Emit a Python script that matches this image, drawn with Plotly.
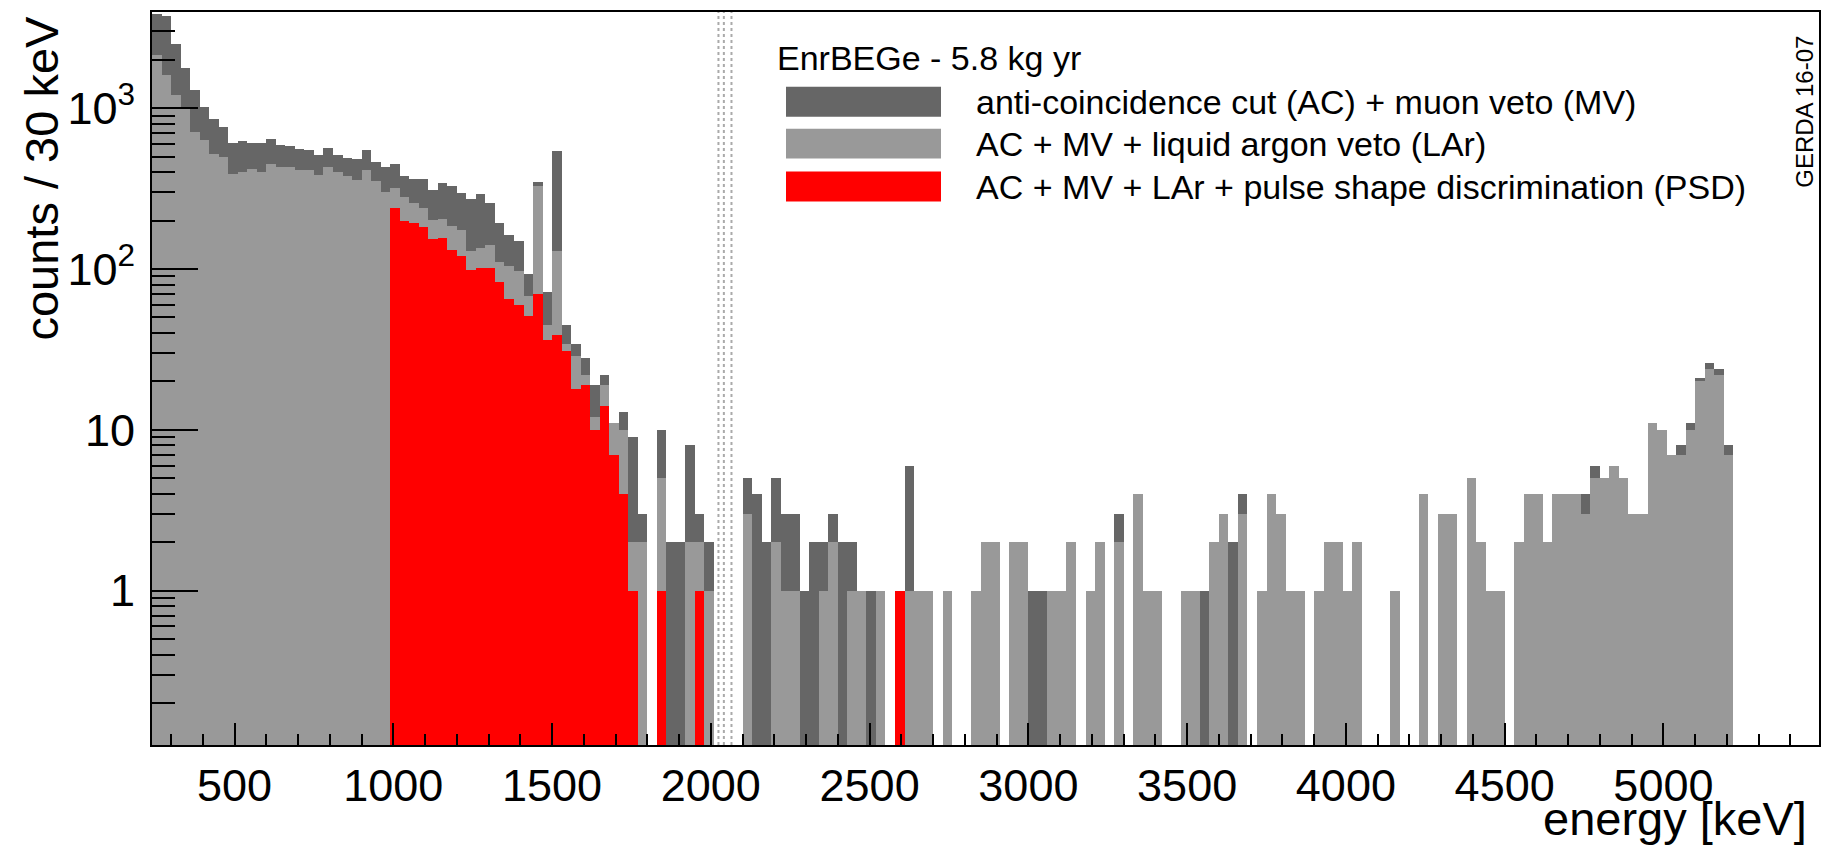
import plotly.graph_objects as go

# Histogram binning: 30 keV bins starting at 240 keV
E_MIN = 240
BIN_WIDTH = 30

# counts / 30 keV after anti-coincidence cut (AC) + muon veto (MV)
ac_mv = [
    3830, 3720, 2500, 1780, 1290, 1010, 855, 760, 611, 622,
    605, 611, 646, 590, 585, 557, 552, 512, 563, 512,
    493, 483, 550, 465, 430, 448, 379, 365, 361, 310,
    345, 326, 299, 273, 293, 257, 193, 162, 150, 93,
    350, 72, 542, 45, 34, 28, 19, 22, 11, 13,
    9, 3, 0, 10, 2, 2, 8, 3, 2, 0,
    0, 0, 5, 4, 2, 5, 3, 3, 1, 2,
    2, 3, 2, 2, 1, 1, 1, 0, 1, 6,
    1, 1, 0, 1, 0, 0, 1, 2, 2, 0,
    2, 2, 1, 1, 1, 1, 2, 0, 1, 2,
    0, 3, 0, 4, 1, 1, 0, 0, 1, 1,
    1, 2, 3, 2, 4, 0, 1, 4, 3, 1,
    1, 0, 1, 2, 2, 1, 2, 0, 0, 0,
    1, 0, 0, 4, 0, 3, 3, 0, 5, 2,
    1, 1, 0, 2, 4, 4, 2, 4, 4, 4,
    4, 6, 5, 6, 5, 3, 3, 11, 10, 7,
    8, 11, 21, 26, 24, 8,
]

# AC + MV + liquid argon veto (LAr)
ac_mv_lar = [
    2130, 1600, 1205, 990, 714, 634, 517, 500, 390, 404,
    419, 404, 450, 433, 430, 410, 413, 385, 430, 400,
    381, 358, 410, 355, 303, 318, 279, 259, 241, 201,
    205, 184, 174, 129, 136, 142, 110, 105, 97, 68,
    326, 45, 130, 34, 29, 22, 12, 19, 11, 10,
    2, 2, 0, 5, 0, 0, 2, 2, 1, 0,
    0, 0, 3, 0, 0, 2, 1, 1, 0, 0,
    1, 2, 0, 1, 1, 0, 1, 0, 1, 1,
    1, 1, 0, 1, 0, 0, 1, 2, 2, 0,
    2, 2, 0, 0, 1, 1, 2, 0, 1, 2,
    0, 2, 0, 4, 1, 1, 0, 0, 1, 1,
    0, 2, 3, 0, 3, 0, 1, 4, 3, 1,
    1, 0, 1, 2, 2, 1, 2, 0, 0, 0,
    1, 0, 0, 4, 0, 3, 3, 0, 5, 2,
    1, 1, 0, 2, 4, 4, 2, 4, 4, 4,
    3, 5, 5, 6, 5, 3, 3, 11, 10, 7,
    7, 10, 20, 24, 22, 7,
]

# AC + MV + LAr + pulse shape discrimination (PSD), analysed above 990 keV
ac_mv_lar_psd = [
    0, 0, 0, 0, 0, 0, 0, 0, 0, 0,
    0, 0, 0, 0, 0, 0, 0, 0, 0, 0,
    0, 0, 0, 0, 0, 239, 198, 193, 182, 154,
    157, 132, 120, 99, 101, 101, 83, 65, 60, 51,
    70, 36, 39, 31, 18, 19, 10, 14, 7, 4,
    1, 0, 0, 1, 0, 0, 0, 1, 0, 0,
    0, 0, 0, 0, 0, 0, 0, 0, 0, 0,
    0, 0, 0, 0, 0, 0, 0, 0, 1, 0,
] + [0] * 86

# Blinded region markers around Q_bb (keV)
blind_lines = [2024, 2041, 2065]

x_ticks = [500, 1000, 1500, 2000, 2500, 3000, 3500, 4000, 4500, 5000]
y_ticks = [1, 10, 100, 1000]
y_tick_text = ["1", "10", "10<sup>2</sup>", "10<sup>3</sup>"]

series = [
    ("anti-coincidence cut (AC) + muon veto (MV)", ac_mv, "#666666"),
    ("AC + MV + liquid argon veto (LAr)", ac_mv_lar, "#999999"),
    ("AC + MV + LAr + pulse shape discrimination (PSD)", ac_mv_lar_psd, "#ff0000"),
]

centers = [E_MIN + BIN_WIDTH * (i + 0.5) for i in range(len(ac_mv))]

FONT = "Liberation Sans, Arial, Helvetica, sans-serif"
W, H = 1833, 848
L, R, T, B = 152, 14, 10, 103
PW, PH = W - L - R, H - T - B


def px(xp):
    return (xp - L) / PW


def py(yp):
    return 1 - (yp - T) / PH


fig = go.Figure()
for name, vals, color in series:
    fig.add_trace(go.Bar(
        x=centers,
        y=[v if v > 0 else None for v in vals],
        width=BIN_WIDTH,
        name=name,
        marker=dict(color=color, line=dict(width=0)),
        showlegend=False,
    ))

minor_y = [m * 10 ** d for d in range(-1, 4) for m in range(2, 10) if m * 10 ** d < 3900]

fig.update_layout(
    width=W, height=H,
    margin=dict(l=L, r=R, t=T, b=B, pad=0),
    barmode="overlay", bargap=0,
    plot_bgcolor="white", paper_bgcolor="white",
    font=dict(family=FONT, color="black"),
    showlegend=False,
    xaxis=dict(
        range=[E_MIN, 5490], showgrid=False, zeroline=False,
        showline=True, linecolor="black", linewidth=2, mirror=True,
        tickmode="array", tickvals=x_ticks,
        ticks="inside", ticklen=22, tickwidth=2, tickcolor="black",
        tickfont=dict(size=45, family=FONT),
        minor=dict(ticks="inside", ticklen=11, tickwidth=2, tickcolor="black",
                   tick0=0, dtick=100, showgrid=False),
    ),
    yaxis=dict(
        type="log", range=[-0.959, 3.598], showgrid=False, zeroline=False,
        showline=True, linecolor="black", linewidth=2, mirror=True,
        tickmode="array", tickvals=y_ticks, ticktext=y_tick_text,
        ticks="inside", ticklen=46, tickwidth=2, tickcolor="black",
        tickfont=dict(size=45, family=FONT),
        ticklabelstandoff=6,
        minor=dict(tickmode="array", tickvals=minor_y, ticks="inside",
                   ticklen=23, tickwidth=2, tickcolor="black", showgrid=False),
    ),
)

for e in blind_lines:
    fig.add_shape(type="line", xref="x", yref="paper", x0=e, x1=e, y0=0, y1=1,
                  line=dict(color="#aaaaaa", width=2, dash="dot"))

# Legend block
fig.add_annotation(xref="paper", yref="paper", x=px(775), y=py(56),
                   xanchor="left", yanchor="middle", showarrow=False,
                   text="EnrBEGe - 5.8 kg yr", font=dict(size=34, family=FONT))
row_y = [100, 142, 185]
for (name, _, color), yc in zip(series, row_y):
    fig.add_shape(type="rect", xref="paper", yref="paper",
                  x0=px(786), x1=px(941), y0=py(yc + 15), y1=py(yc - 15),
                  fillcolor=color, line=dict(width=0))
    fig.add_annotation(xref="paper", yref="paper", x=px(974), y=py(yc),
                       xanchor="left", yanchor="middle", showarrow=False,
                       text=name, font=dict(size=34, family=FONT))

# Axis titles
fig.add_annotation(xref="paper", yref="paper", x=px(42), y=py(176),
                   xanchor="center", yanchor="middle", showarrow=False,
                   textangle=-90, text="counts / 30 keV",
                   font=dict(size=47, family=FONT))
fig.add_annotation(xref="paper", yref="paper", x=px(1809), y=py(819),
                   xanchor="right", yanchor="middle", showarrow=False,
                   text="energy [keV]", font=dict(size=47, family=FONT))

# Plot stamp
fig.add_annotation(xref="paper", yref="paper", x=px(1805), y=py(110),
                   xanchor="center", yanchor="middle", showarrow=False,
                   textangle=-90, text="GERDA 16-07",
                   font=dict(size=24, family=FONT))

fig.write_html("out.html")
